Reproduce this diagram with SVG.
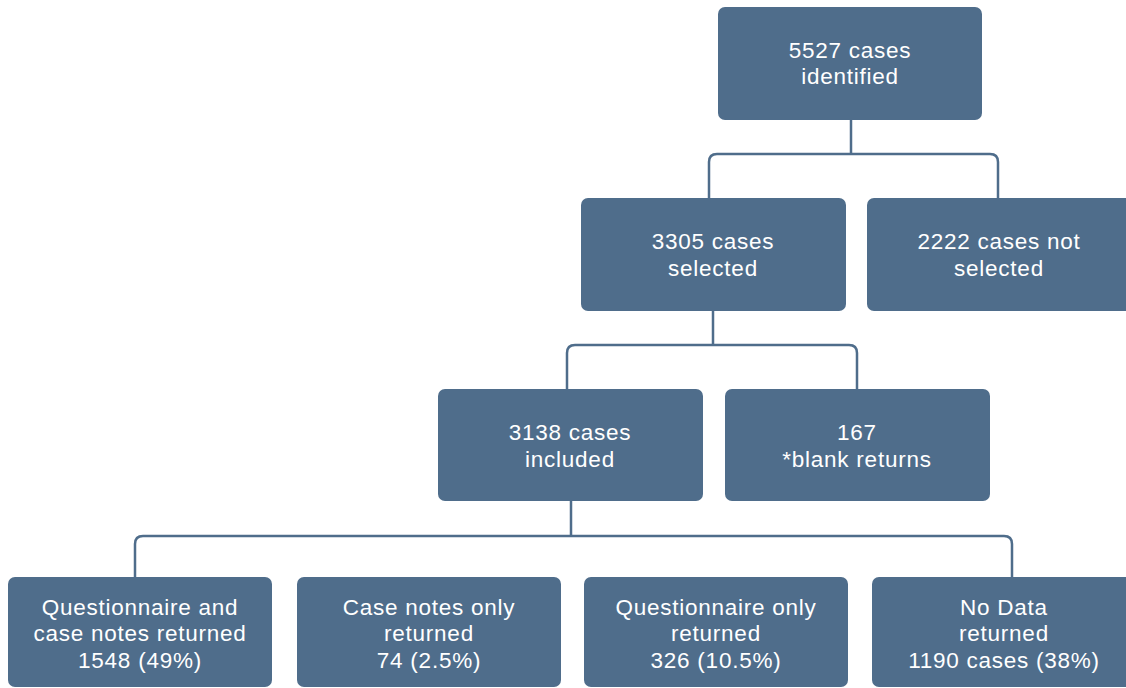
<svg xmlns="http://www.w3.org/2000/svg" width="1126" height="688" viewBox="0 0 1126 688">
<style>
.box{fill:#4f6d8b}
.t{font-family:"Liberation Sans",Arial,sans-serif;font-size:22.5px;letter-spacing:0.75px;fill:#ffffff;text-anchor:middle}
.c{fill:none;stroke:#4f6d8b;stroke-width:2.5}
</style>
<rect width="1126" height="688" fill="#ffffff"/>
<g id="connectors">
<path class="c" d="M851 120 V154 M709 198 V162 Q709 154 717 154 H990 Q998 154 998 162 V198"/>
<path class="c" d="M713 311 V345 M567 389 V353 Q567 345 575 345 H849 Q857 345 857 353 V389"/>
<path class="c" d="M571 501 V536 M135 577 V544 Q135 536 143 536 H1004 Q1012 536 1012 544 V577"/>
</g>
<g id="n1"><rect class="box" x="718" y="7" width="264" height="113" rx="7"/><text class="t" x="850" y="57.5">5527 cases</text><text class="t" x="850" y="84">identified</text></g>
<g id="n2"><rect class="box" x="581" y="198" width="265" height="113" rx="7"/><text class="t" x="713" y="249">3305 cases</text><text class="t" x="713" y="275.5">selected</text></g>
<g id="n3"><rect class="box" x="867" y="198" width="265" height="113" rx="7"/><text class="t" x="999" y="249">2222 cases not</text><text class="t" x="999" y="275.5">selected</text></g>
<g id="n4"><rect class="box" x="438" y="389" width="265" height="112" rx="7"/><text class="t" x="570" y="440">3138 cases</text><text class="t" x="570" y="466.5">included</text></g>
<g id="n5"><rect class="box" x="725" y="389" width="265" height="112" rx="7"/><text class="t" x="857" y="440">167</text><text class="t" x="857" y="466.5">*blank returns</text></g>
<g id="n6"><rect class="box" x="8" y="577" width="264" height="110" rx="7"/><text class="t" x="140" y="614.5">Questionnaire and</text><text class="t" x="140" y="641">case notes returned</text><text class="t" x="140" y="667.5">1548 (49%)</text></g>
<g id="n7"><rect class="box" x="297" y="577" width="264" height="110" rx="7"/><text class="t" x="429" y="614.5">Case notes only</text><text class="t" x="429" y="641">returned</text><text class="t" x="429" y="667.5">74 (2.5%)</text></g>
<g id="n8"><rect class="box" x="584" y="577" width="264" height="110" rx="7"/><text class="t" x="716" y="614.5">Questionnaire only</text><text class="t" x="716" y="641">returned</text><text class="t" x="716" y="667.5">326 (10.5%)</text></g>
<g id="n9"><rect class="box" x="872" y="577" width="264" height="110" rx="7"/><text class="t" x="1004" y="614.5">No Data</text><text class="t" x="1004" y="641">returned</text><text class="t" x="1004" y="667.5">1190 cases (38%)</text></g>
</svg>
